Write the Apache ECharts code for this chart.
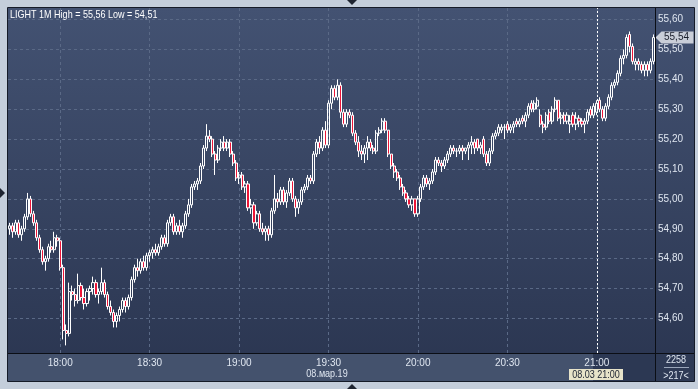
<!DOCTYPE html>
<html>
<head>
<meta charset="utf-8">
<script src="https://cdn.jsdelivr.net/npm/echarts@6/dist/echarts.min.js"></script>
<style>html,body{margin:0;padding:0;background:#c4cedb;}#c{width:698px;height:389px;}</style>
</head>
<body>
<div id="c"></div>
<script>
const categories = [
'17:43','17:44','17:45','17:46','17:47','17:48','17:49','17:50','17:51','17:52','17:53','17:54','17:55','17:56','17:57','17:58','17:59',
'18:00','18:01','18:02','18:03','18:04','18:05','18:06','18:07','18:08','18:09','18:10','18:11','18:12','18:13','18:14','18:15','18:16','18:17','18:18','18:19','18:20','18:21','18:22','18:23','18:24','18:25','18:26','18:27','18:28','18:29',
'18:30','18:31','18:32','18:33','18:34','18:35','18:36','18:37','18:38','18:39','18:40','18:41','18:42','18:43','18:44','18:45','18:46','18:47','18:48','18:49','18:50','18:51','18:52','18:53','18:54','18:55','18:56','18:57','18:58','18:59',
'19:00','19:01','19:02','19:03','19:04','19:05','19:06','19:07','19:08','19:09','19:10','19:11','19:12','19:13','19:14','19:15','19:16','19:17','19:18','19:19','19:20','19:21','19:22','19:23','19:24','19:25','19:26','19:27','19:28','19:29',
'19:30','19:31','19:32','19:33','19:34','19:35','19:36','19:37','19:38','19:39','19:40','19:41','19:42','19:43','19:44','19:45','19:46','19:47','19:48','19:49','19:50','19:51','19:52','19:53','19:54','19:55','19:56','19:57','19:58','19:59',
'20:00','20:01','20:02','20:03','20:04','20:05','20:06','20:07','20:08','20:09','20:10','20:11','20:12','20:13','20:14','20:15','20:16','20:17','20:18','20:19','20:20','20:21','20:22','20:23','20:24','20:25','20:26','20:27','20:28','20:29',
'20:30','20:31','20:32','20:33','20:34','20:35','20:36','20:37','20:38','20:39','20:40','20:41','20:42','20:43','20:44','20:45','20:46','20:47','20:48','20:49','20:50','20:51','20:52','20:53','20:54','20:55','20:56','20:57','20:58','20:59',
'21:00','21:01','21:02','21:03','21:04','21:05','21:06','21:07','21:08','21:09','21:10','21:11','21:12','21:13','21:14','21:15','21:16','21:17','21:18','21:19'
];

const opens = [
54.90,54.91,54.89,54.92,54.88,54.90,54.94,55.00,54.95,54.92,
54.87,54.83,54.79,54.80,54.84,54.83,54.87,54.86,54.77,54.56,
54.55,54.69,54.68,54.66,54.71,54.67,54.65,54.69,54.70,54.72,
54.68,54.69,54.72,54.68,54.64,54.62,54.59,54.61,54.63,54.66,
54.64,54.67,54.73,54.77,54.76,54.79,54.77,54.81,54.82,54.83,
54.82,54.84,54.87,54.85,54.92,54.94,54.89,54.91,54.89,54.91,
54.95,54.98,55.04,55.05,55.06,55.11,55.17,55.21,55.20,55.15,
55.13,55.17,55.19,55.17,55.19,55.15,55.12,55.07,55.08,55.04,
55.05,54.97,54.98,54.92,54.95,54.90,54.89,54.90,54.88,54.96,
55.00,54.99,55.03,54.99,55.02,55.06,55.00,54.97,54.99,55.03,
55.04,55.07,55.06,55.15,55.19,55.17,55.23,55.18,55.32,55.37,
55.34,55.38,55.29,55.25,55.29,55.28,55.22,55.19,55.16,55.15,
55.17,55.19,55.17,55.16,55.22,55.23,55.26,55.23,55.15,55.11,
55.09,55.07,55.04,55.02,55.00,54.98,55.00,54.95,55.00,55.04,
55.07,55.05,55.06,55.09,55.13,55.12,55.11,55.13,55.15,55.17,
55.16,55.16,55.17,55.16,55.17,55.18,55.19,55.20,55.17,55.20,
55.15,55.12,55.16,55.21,55.22,55.23,55.24,55.25,55.23,55.24,
55.26,55.25,55.27,55.26,55.28,55.32,55.30,55.31,55.28,55.25,
55.24,55.29,55.26,55.30,55.33,55.27,55.28,55.26,55.25,55.28,
55.25,55.27,55.26,55.25,55.26,55.30,55.28,55.29,55.33,55.30,
55.27,55.31,55.34,55.38,55.39,55.42,55.47,55.48,55.55,55.51,
55.45,55.46,55.45,55.43,55.45,55.43,55.46
];

const highs = [
54.92,54.92,54.93,54.93,54.91,54.95,55.02,55.01,54.96,54.93,
54.88,54.84,54.81,54.85,54.86,54.89,54.88,54.87,54.78,54.58,
54.72,54.71,54.70,54.75,54.72,54.70,54.70,54.71,54.74,54.73,
54.70,54.77,54.73,54.69,54.66,54.63,54.62,54.64,54.67,54.67,
54.68,54.74,54.78,54.80,54.80,54.81,54.82,54.83,54.84,54.85,
54.85,54.88,54.88,54.93,54.95,54.95,54.92,54.93,54.92,54.96,
55.00,55.05,55.06,55.07,55.12,55.18,55.25,55.23,55.21,55.16,
55.18,55.20,55.21,55.20,55.20,55.16,55.13,55.09,55.09,55.06,
55.06,55.00,54.99,54.96,54.96,54.92,54.91,54.91,54.97,55.08,
55.02,55.04,55.04,55.03,55.07,55.07,55.01,55.00,55.04,55.05,
55.08,55.08,55.16,55.20,55.21,55.24,55.26,55.33,55.38,55.38,
55.40,55.39,55.30,55.30,55.30,55.29,55.23,55.21,55.18,55.18,
55.21,55.20,55.18,55.23,55.24,55.27,55.27,55.23,55.15,55.12,
55.10,55.08,55.05,55.03,55.01,55.01,55.00,55.01,55.05,55.08,
55.08,55.07,55.10,55.14,55.14,55.13,55.14,55.16,55.18,55.18,
55.17,55.18,55.18,55.17,55.19,55.21,55.20,55.20,55.19,55.21,
55.16,55.17,55.22,55.23,55.25,55.25,55.25,55.26,55.25,55.26,
55.27,55.27,55.28,55.29,55.32,55.33,55.33,55.34,55.30,55.26,
55.29,55.30,55.31,55.34,55.33,55.29,55.29,55.29,55.28,55.29,
55.29,55.28,55.27,55.27,55.30,55.31,55.32,55.33,55.34,55.31,
55.32,55.35,55.39,55.40,55.43,55.48,55.50,55.55,55.56,55.52,
55.47,55.47,55.46,55.46,55.46,55.47,55.55
];

const lows = [
54.88,54.87,54.88,54.87,54.86,54.89,54.93,54.94,54.91,54.86,
54.82,54.78,54.76,54.79,54.82,54.82,54.84,54.76,54.53,54.51,
54.54,54.66,54.64,54.65,54.66,54.63,54.64,54.66,54.68,54.67,
54.65,54.68,54.67,54.63,54.61,54.57,54.57,54.59,54.62,54.62,
54.63,54.66,54.72,54.74,54.75,54.76,54.76,54.79,54.80,54.81,
54.81,54.83,54.84,54.84,54.91,54.88,54.88,54.88,54.87,54.90,
54.94,54.97,55.03,55.03,55.05,55.10,55.16,55.19,55.14,55.08,
55.12,55.16,55.16,55.16,55.14,55.11,55.06,55.05,55.03,55.02,
54.96,54.95,54.90,54.91,54.89,54.88,54.86,54.86,54.87,54.95,
54.97,54.98,54.98,54.97,55.01,54.99,54.94,54.95,54.98,55.02,
55.03,55.05,55.05,55.14,55.15,55.16,55.17,55.17,55.30,55.33,
55.33,55.27,55.24,55.24,55.27,55.21,55.18,55.14,55.13,55.12,
55.13,55.16,55.15,55.15,55.21,55.22,55.22,55.14,55.10,55.07,
55.06,55.03,55.01,54.99,54.97,54.96,54.94,54.94,54.99,55.03,
55.04,55.03,55.05,55.08,55.11,55.09,55.10,55.12,55.14,55.15,
55.14,55.15,55.13,55.15,55.13,55.15,55.15,55.16,55.15,55.14,
55.11,55.11,55.15,55.20,55.21,55.22,55.20,55.22,55.22,55.22,
55.24,55.24,55.25,55.24,55.27,55.29,55.29,55.30,55.24,55.22,
55.23,55.25,55.25,55.29,55.26,55.25,55.25,55.25,55.22,55.24,
55.23,55.24,55.24,55.22,55.25,55.27,55.27,55.28,55.29,55.26,
55.26,55.30,55.33,55.37,55.38,55.41,55.45,55.47,55.49,55.45,
55.43,55.43,55.42,55.41,55.41,55.42,55.45
];

const closes = [
54.91,54.89,54.92,54.88,54.90,54.94,55.00,54.95,54.92,54.87,
54.83,54.79,54.80,54.84,54.83,54.87,54.86,54.77,54.56,54.55,
54.69,54.68,54.66,54.71,54.67,54.65,54.69,54.70,54.72,54.68,
54.69,54.72,54.68,54.64,54.62,54.59,54.61,54.63,54.66,54.64,
54.67,54.73,54.77,54.76,54.79,54.77,54.81,54.82,54.83,54.82,
54.84,54.87,54.85,54.92,54.94,54.89,54.91,54.89,54.91,54.95,
54.98,55.04,55.05,55.06,55.11,55.17,55.21,55.20,55.15,55.13,
55.17,55.19,55.17,55.19,55.15,55.12,55.07,55.08,55.04,55.05,
54.97,54.98,54.92,54.95,54.90,54.89,54.90,54.88,54.96,55.00,
54.99,55.03,54.99,55.02,55.06,55.00,54.97,54.99,55.03,55.04,
55.07,55.06,55.15,55.19,55.17,55.23,55.18,55.32,55.37,55.34,
55.38,55.29,55.25,55.29,55.28,55.22,55.19,55.16,55.15,55.17,
55.19,55.17,55.16,55.22,55.23,55.26,55.23,55.15,55.11,55.09,
55.07,55.04,55.02,55.00,54.98,55.00,54.95,55.00,55.04,55.07,
55.05,55.06,55.09,55.13,55.12,55.11,55.13,55.15,55.17,55.16,
55.16,55.17,55.16,55.17,55.18,55.19,55.17,55.17,55.18,55.15,
55.12,55.16,55.21,55.22,55.24,55.24,55.24,55.23,55.24,55.25,
55.25,55.26,55.26,55.28,55.31,55.30,55.32,55.33,55.25,55.24,
55.28,55.26,55.30,55.33,55.27,55.28,55.26,55.28,55.26,55.25,
55.27,55.26,55.25,55.26,55.29,55.28,55.31,55.32,55.30,55.27,
55.31,55.34,55.38,55.39,55.42,55.47,55.48,55.54,55.51,55.46,
55.46,55.45,55.43,55.45,55.43,55.46,55.54
];

const xTickLabels = ['18:00','18:30','19:00','19:30','20:00','20:30','21:00'];
const yTickValues = [54.6,54.7,54.8,54.9,55.0,55.1,55.2,55.3,55.4,55.5,55.6];
const crosshairTime = '21:00';
const crosshairLabel = '08.03 21:00';
const dateLabel = '08.мар.19';
const volumeLabel = '2258';
const symbolName = 'LIGHT 1M';

const FONT = '"Liberation Sans", Arial, sans-serif';
const LBL = '#dfe6f0';
const NARROW = 0.82;
const fmt = v => v.toFixed(2).replace('.', ',');

const ohlc = opens.map((o, i) => [o, closes[i], lows[i], highs[i]]);
const hi = Math.max.apply(null, highs);
const lo = Math.min.apply(null, lows);
const lastClose = closes[closes.length - 1];
const lastCat = categories[categories.length - 1];

const chart = echarts.init(document.getElementById('c'), null, {renderer: 'canvas'});

const bgGrad = new echarts.graphic.LinearGradient(0, 0, 0, 1, [
  {offset: 0, color: '#435272'},
  {offset: 1, color: '#2a3550'}
]);

function ntext(x, y, text, fill, align, z) {
  return {
    type: 'text', silent: true, z: z || 50, x: x, y: y, scaleX: NARROW, scaleY: 1,
    style: {text: text, fill: fill, font: '11px ' + FONT, textAlign: align, textVerticalAlign: 'middle'}
  };
}

const option = {
  backgroundColor: '#c4cedb',
  animation: false,
  grid: {left: 8, right: 43, top: 8, bottom: 36, containLabel: false},
  xAxis: {
    type: 'category',
    data: categories,
    boundaryGap: true,
    axisLine: {show: false},
    axisTick: {show: false},
    splitLine: {show: false},
    axisLabel: {
      interval: (idx, val) => xTickLabels.indexOf(val) >= 0,
      color: LBL, fontSize: 10, fontFamily: FONT, margin: 5
    }
  },
  yAxis: {
    type: 'value',
    position: 'right',
    min: 54.4846,
    max: 55.6385,
    axisLine: {show: false},
    axisTick: {show: false, customValues: yTickValues},
    axisLabel: {
      customValues: yTickValues,
      formatter: v => fmt(v),
      color: LBL, fontSize: 10, fontFamily: FONT, margin: 3
    },
    splitLine: {show: true, lineStyle: {color: '#5a6986', width: 1, type: [3, 3]}}
  },
  series: [
    {
      type: 'line',
      data: [],
      z: 1,
      silent: true,
      markLine: {
        silent: true,
        symbol: 'none',
        label: {show: false},
        lineStyle: {color: '#5a6986', width: 1, type: [3, 3]},
        data: xTickLabels.map(t => ({xAxis: t}))
      }
    },
    {
      type: 'candlestick',
      data: ohlc,
      barWidth: 2.6,
      z: 5,
      itemStyle: {
        color: 'rgba(0,0,0,0)',
        color0: '#ec1538',
        borderColor: '#ffffff',
        borderColor0: '#ffffff',
        borderColorDoji: '#ffffff',
        borderWidth: 1
      },
      markLine: {
        silent: true,
        symbol: 'none',
        label: {show: false},
        lineStyle: {color: '#ffffff', width: 1, type: [2, 2]},
        data: [{xAxis: crosshairTime}]
      },
      markPoint: {
        silent: true,
        symbol: 'path://M0,6 L6,0 L38,0 L38,12 L6,12 Z',
        symbolSize: [38, 12],
        symbolKeepAspect: false,
        symbolOffset: [21, 0],
        itemStyle: {color: '#c9ced8'},
        label: {
          show: true,
          formatter: () => fmt(lastClose),
          color: '#1a1f2c',
          fontSize: 10,
          fontFamily: FONT,
          offset: [2, 0]
        },
        data: [{coord: [lastCat, lastClose]}]
      }
    }
  ],
  graphic: [
    {type: 'rect', silent: true, z: -10, shape: {x: 8, y: 8, width: 686, height: 373}, style: {fill: bgGrad}},
    {type: 'rect', silent: true, z: -9, shape: {x: 8, y: 354, width: 647, height: 27}, style: {fill: '#44526d'}},
    {type: 'rect', silent: true, z: -9, shape: {x: 593, y: 354, width: 62, height: 27}, style: {fill: '#2c3853'}},
    {type: 'rect', silent: true, z: -9, shape: {x: 656, y: 354, width: 38, height: 27}, style: {fill: '#2e3a55'}},
    {type: 'rect', silent: true, z: 50, shape: {x: 7.5, y: 7.5, width: 687, height: 374}, style: {fill: null, stroke: '#151b28', lineWidth: 1}},
    {type: 'line', silent: true, z: 50, shape: {x1: 655.5, y1: 8, x2: 655.5, y2: 381}, style: {stroke: '#0b0e15', lineWidth: 1}},
    {type: 'line', silent: true, z: 50, shape: {x1: 8, y1: 353.5, x2: 694, y2: 353.5}, style: {stroke: '#0b0e15', lineWidth: 1}},
    ntext(10, 14.5, symbolName + ' High = ' + fmt(hi) + ' Low = ' + fmt(lo), '#ffffff', 'left'),
    ntext(327, 374, dateLabel, LBL, 'center'),
    {type: 'rect', silent: true, z: 55, shape: {x: 569, y: 369, width: 54, height: 11}, style: {fill: '#e7e3c9'}},
    ntext(596, 374.5, crosshairLabel, '#1b2130', 'center', 56),
    ntext(676, 360, volumeLabel, LBL, 'center'),
    {type: 'line', silent: true, z: 50, shape: {x1: 664, y1: 367.5, x2: 689, y2: 367.5}, style: {stroke: '#9aa6ba', lineWidth: 1}},
    ntext(676, 375.5, '>' + categories.length + '<', LBL, 'center'),
    {type: 'polygon', silent: true, z: 50, shape: {points: [[347, 0], [357, 0], [352, 5]]}, style: {fill: '#1e2431'}},
    {type: 'polygon', silent: true, z: 50, shape: {points: [[347, 389], [357, 389], [352, 384]]}, style: {fill: '#1e2431'}},
    {type: 'polygon', silent: true, z: 50, shape: {points: [[0, 188], [0, 198], [5, 193]]}, style: {fill: '#1e2431'}}
  ]
};

chart.setOption(option);
</script>
</body>
</html>
